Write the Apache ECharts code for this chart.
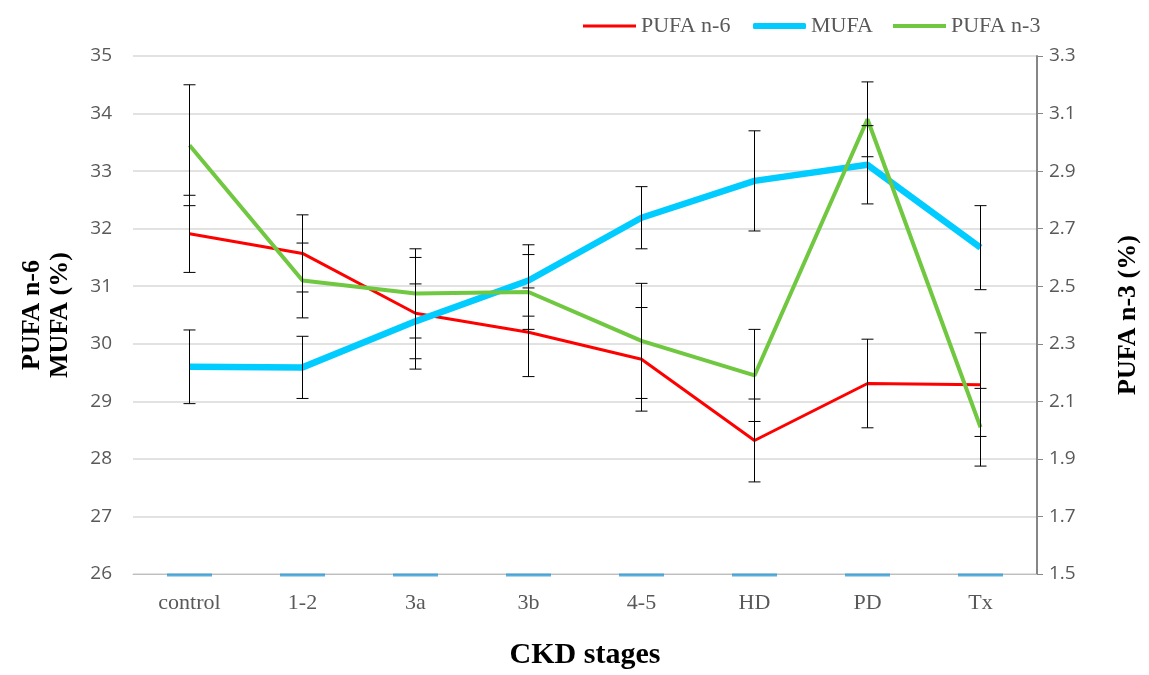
<!DOCTYPE html>
<html>
<head>
<meta charset="utf-8">
<script src="https://cdn.jsdelivr.net/npm/echarts@6/dist/echarts.min.js"></script>
<style>html,body{margin:0;padding:0;background:#fff}#chart{width:1149px;height:675px}</style>
</head>
<body>
<div id="chart"></div>
<script>
const categories = ['control', '1-2', '3a', '3b', '4-5', 'HD', 'PD', 'Tx'];
const pufaN6 = [31.91, 31.57, 30.53, 30.20, 29.73, 28.32, 29.31, 29.29];
const pufaN6Err = [0.67, 0.67, 0.97, 0.77, 0.90, 0.72, 0.77, 0.90];
const mufa = [29.60, 29.59, 30.39, 31.10, 32.19, 32.83, 33.11, 31.67];
const mufaErr = [0.64, 0.54, 0.65, 0.62, 0.54, 0.87, 0.68, 0.73];
const pufaN3 = [2.99, 2.52, 2.475, 2.48, 2.31, 2.19, 3.08, 2.01];
const pufaN3Err = [0.21, 0.13, 0.155, 0.13, 0.20, 0.16, 0.13, 0.135];
const baseline = [26, 26, 26, 26, 26, 26, 26, 26];
const leftTicks = {min: 26, max: 35, interval: 1};
const rightTicks = {min: 1.5, max: 3.3, interval: 0.2};

function errData(vals, errs) {
  return vals.map((v, i) => [i, v - errs[i], v + errs[i]]);
}
function errRender(params, api) {
  const x = api.value(0);
  const lo = api.coord([x, api.value(1)]);
  const hi = api.coord([x, api.value(2)]);
  const w = 6;
  const st = {stroke: '#000', lineWidth: 1};
  return {
    type: 'group',
    children: [
      {type: 'line', shape: {x1: hi[0], y1: hi[1], x2: lo[0], y2: lo[1]}, style: st},
      {type: 'line', shape: {x1: hi[0] - w, y1: hi[1], x2: hi[0] + w, y2: hi[1]}, style: st},
      {type: 'line', shape: {x1: lo[0] - w, y1: lo[1], x2: lo[0] + w, y2: lo[1]}, style: st}
    ]
  };
}

const serif = '"Liberation Serif", "DejaVu Serif", serif';
const sans = '"Open Sans", "Noto Sans", sans-serif';
const legendText = {fontFamily: serif, fontSize: 22, color: '#595959'};

const chart = echarts.init(document.getElementById('chart'));
chart.setOption({
  animation: false,
  grid: {left: 133, right: 109, top: 56, bottom: 94, containLabel: false},
  legend: [
    {data: ['PUFA n-6'], left: 578, top: 10, itemWidth: 53, itemHeight: 3, icon: 'rect', textStyle: legendText},
    {data: ['MUFA'], left: 748, top: 10, itemWidth: 53, itemHeight: 6, icon: 'roundRect', textStyle: legendText},
    {data: ['PUFA n-3'], left: 888, top: 10, itemWidth: 53, itemHeight: 4, icon: 'rect', textStyle: legendText}
  ],
  xAxis: {
    type: 'category',
    data: categories,
    boundaryGap: true,
    axisLine: {show: true, lineStyle: {color: '#bfbfbf', width: 1}},
    axisTick: {show: false},
    axisLabel: {fontFamily: serif, fontSize: 22, color: '#595959', margin: 18},
    name: 'CKD stages',
    nameLocation: 'middle',
    nameGap: 66,
    nameTextStyle: {fontFamily: serif, fontSize: 30, fontWeight: 'bold', color: '#000'}
  },
  yAxis: [
    {
      type: 'value',
      min: leftTicks.min, max: leftTicks.max, interval: leftTicks.interval,
      axisLine: {show: false},
      axisTick: {show: false},
      splitLine: {show: true, lineStyle: {color: '#d9d9d9', width: 1.5}},
      axisLabel: {fontFamily: sans, fontSize: 19, color: '#595959', margin: 21},
      name: 'PUFA n-6\nMUFA (%)',
      nameLocation: 'middle',
      nameRotate: 90,
      nameGap: 59,
      nameTextStyle: {fontFamily: serif, fontSize: 26, fontWeight: 'bold', color: '#000', lineHeight: 28}
    },
    {
      type: 'value',
      position: 'right',
      min: rightTicks.min, max: rightTicks.max, interval: rightTicks.interval,
      axisLine: {show: true, lineStyle: {color: '#868686', width: 2}},
      axisTick: {show: true, length: 6, lineStyle: {color: '#868686'}},
      splitLine: {show: false},
      axisLabel: {fontFamily: sans, fontSize: 19, color: '#595959', margin: 12,
        formatter: v => v.toFixed(1)},
      name: 'PUFA n-3 (%)',
      nameLocation: 'middle',
      nameRotate: 90,
      nameGap: 78,
      nameTextStyle: {fontFamily: serif, fontSize: 26, fontWeight: 'bold', color: '#000'}
    }
  ],
  series: [
    {
      name: 'baseline', type: 'scatter', yAxisIndex: 0, data: baseline,
      symbol: 'rect', symbolSize: [45, 3], symbolOffset: [0, 1], itemStyle: {color: '#2f9bd6'}, z: 3
    },
    {
      name: 'PUFA n-6', type: 'line', yAxisIndex: 0, data: pufaN6,
      showSymbol: false, symbol: 'none', lineStyle: {color: '#ff0000', width: 3},
      itemStyle: {color: '#ff0000'}, z: 2
    },
    {
      name: 'MUFA', type: 'line', yAxisIndex: 0, data: mufa,
      showSymbol: false, symbol: 'none', lineStyle: {color: '#00ccff', width: 6.5},
      itemStyle: {color: '#00ccff'}, z: 3
    },
    {
      name: 'PUFA n-3', type: 'line', yAxisIndex: 1, data: pufaN3,
      showSymbol: false, symbol: 'none', lineStyle: {color: '#70c840', width: 4},
      itemStyle: {color: '#70c840'}, z: 4
    },
    {
      name: 'PUFA n-6 SD', type: 'custom', yAxisIndex: 0,
      data: errData(pufaN6, pufaN6Err), renderItem: errRender, z: 5,
      encode: {x: 0, y: [1, 2]}
    },
    {
      name: 'MUFA SD', type: 'custom', yAxisIndex: 0,
      data: errData(mufa, mufaErr), renderItem: errRender, z: 5,
      encode: {x: 0, y: [1, 2]}
    },
    {
      name: 'PUFA n-3 SD', type: 'custom', yAxisIndex: 1,
      data: errData(pufaN3, pufaN3Err), renderItem: errRender, z: 5,
      encode: {x: 0, y: [1, 2]}
    }
  ]
});
</script>
</body>
</html>
